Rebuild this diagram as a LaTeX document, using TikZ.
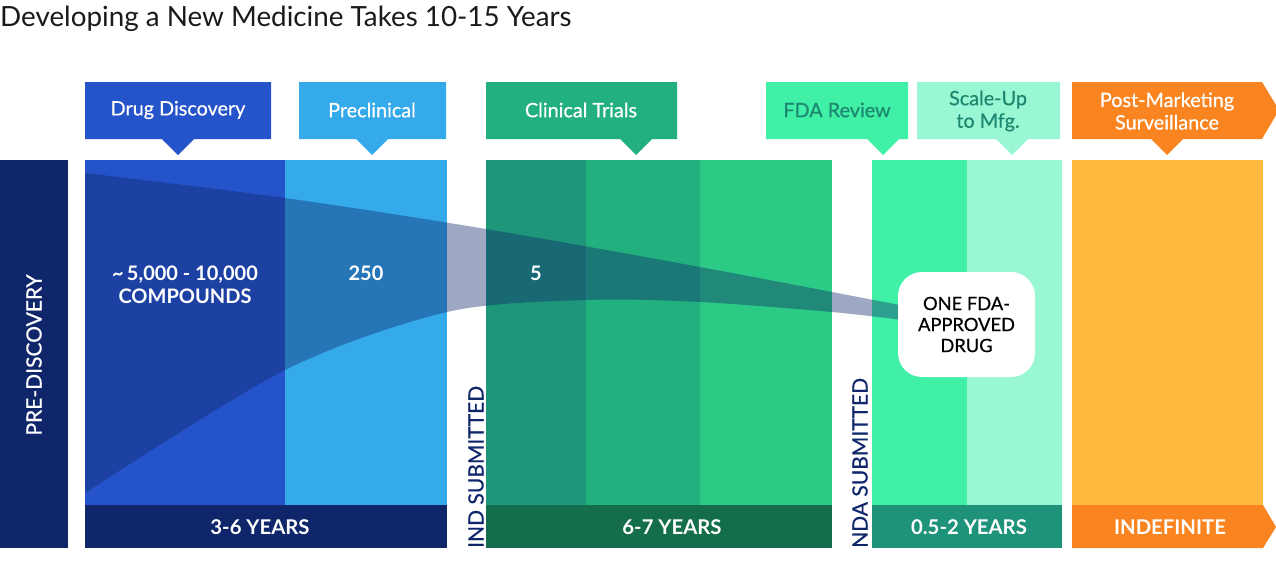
\documentclass[tikz,border=0pt]{standalone}
\usepackage{fontspec}
\setmainfont{Lato}
\newfontfamily\medfont{Lato}[FakeBold=0.6]
\definecolor{navy}{HTML}{10266A}
\definecolor{dblue}{HTML}{2553C9}
\definecolor{sky}{HTML}{35AAEB}
\definecolor{ctone}{HTML}{1E967A}
\definecolor{cttwo}{HTML}{22B07F}
\definecolor{ctthree}{HTML}{2BCB85}
\definecolor{ctbar}{HTML}{146E4C}
\definecolor{mint}{HTML}{40F0A6}
\definecolor{lmint}{HTML}{9AF7D3}
\definecolor{fdabar}{HTML}{1E937A}
\definecolor{fdatext}{HTML}{1E8770}
\definecolor{orng}{HTML}{FA8420}
\definecolor{yell}{HTML}{FDBA3F}
\definecolor{titlec}{HTML}{1A1A1A}
\newcommand\hdrbox[4]{%
  \fill[#1] (#2,82) -- (#3,82) -- (#3,139) -- (#4+16,139) -- (#4,155) -- (#4-16,139) -- (#2,139) -- cycle;}
\tikzset{
  hdr/.style={font=\medfont\fontsize{19.8}{22.5}\selectfont, text=white, align=center, inner sep=0pt},
  num/.style={font=\fontsize{20}{23}\selectfont\bfseries, text=white, align=center, inner sep=0pt},
  yrs/.style={font=\fontsize{20.3}{23}\selectfont\bfseries, text=white, inner sep=0pt},
  vert/.style={font=\medfont\fontsize{21}{23}\selectfont, rotate=90, inner sep=0pt},
}
\begin{document}
\begin{tikzpicture}[x=1pt,y=-1pt]
\useasboundingbox (0,0) rectangle (1276,587);
% title
\node[anchor=base west, inner sep=0pt, text=titlec, font=\fontsize{27.8}{30}\selectfont] (title) at (0,26) {Developing a New Medicine Takes 10-15 Years};
% pre-discovery
\fill[navy] (0,160) rectangle (68,548);
\node[vert, text=white] (pre) at (34,355) {PRE-DISCOVERY};
% drug discovery + preclinical
\fill[dblue] (85,160) rectangle (285,505);
\fill[sky] (285,160) rectangle (447,505);
\fill[navy] (85,505) rectangle (447,548);
% clinical
\fill[ctone] (486,160) rectangle (586,505);
\fill[cttwo] (586,160) rectangle (700,505);
\fill[ctthree] (700,160) rectangle (832,505);
\fill[ctbar] (486,505) rectangle (832,548);
% FDA + scale-up
\fill[mint] (872,160) rectangle (967,505);
\fill[lmint] (967,160) rectangle (1062,505);
\fill[fdabar] (872,505) rectangle (1062,548);
% post-marketing
\fill[yell] (1072,160) rectangle (1263,505);
\fill[orng] (1072,505) -- (1263,505) -- (1276,527) -- (1263,548) -- (1072,548) -- cycle;
% headers
\hdrbox{dblue}{85}{271}{178}
\hdrbox{sky}{299}{446}{372}
\hdrbox{cttwo}{486}{677}{636}
\hdrbox{mint}{766}{908}{883}
\hdrbox{lmint}{917}{1060}{1012}
\fill[orng] (1072,82) -- (1262,82) -- (1279,110) -- (1262,139) -- (1183,139) -- (1167,155) -- (1151,139) -- (1072,139) -- cycle;
\node[hdr] (hdd) at (178,110) {Drug Discovery};
\node[hdr] (hpc) at (372,110) {Preclinical};
\node[hdr] (hct) at (581,110) {Clinical Trials};
\node[hdr, text=fdatext] (hfda) at (837,110) {FDA Review};
\node[hdr, text=fdatext] (hsu) at (988,111) {Scale-Up\\to Mfg.};
\node[hdr] (hpm) at (1167,111) {Post-Marketing\\Surveillance};
% funnel
\fill[navy, opacity=0.4] plot[smooth] coordinates {(85,173) (285,198) (486,229) (700,267) (910,307)}
  -- plot[smooth] coordinates {(910,321) (832,312) (700,302) (586,300) (447,312) (285,370) (85,493)} -- cycle;
% approved box
\node[fill=white, rounded corners=24pt, minimum width=137pt, minimum height=105pt, inner sep=0pt,
  align=center, text=black, font=\medfont\fontsize{18.3}{21}\selectfont] (drug) at (966.5,324.5) {ONE FDA-\\APPROVED\\DRUG};
% numbers
\node[num] (cmp) at (185,285) {\textasciitilde\,5,000 - 10,000\\COMPOUNDS};
\node[num] (n250) at (366,273) {250};
\node[num] (n5) at (536,273) {5};
% years
\node[yrs] (y1) at (260,527) {3-6 YEARS};
\node[yrs] (y2) at (672,527) {6-7 YEARS};
\node[yrs] (y3) at (969,527) {0.5-2 YEARS};
\node[yrs] (y4) at (1170,527) {INDEFINITE};
% submitted
\node[vert, text=navy, anchor=west] (ind) at (476,548) {IND SUBMITTED};
\node[vert, text=navy, anchor=west] (nda) at (860,548) {NDA SUBMITTED};
\end{tikzpicture}
\end{document}
